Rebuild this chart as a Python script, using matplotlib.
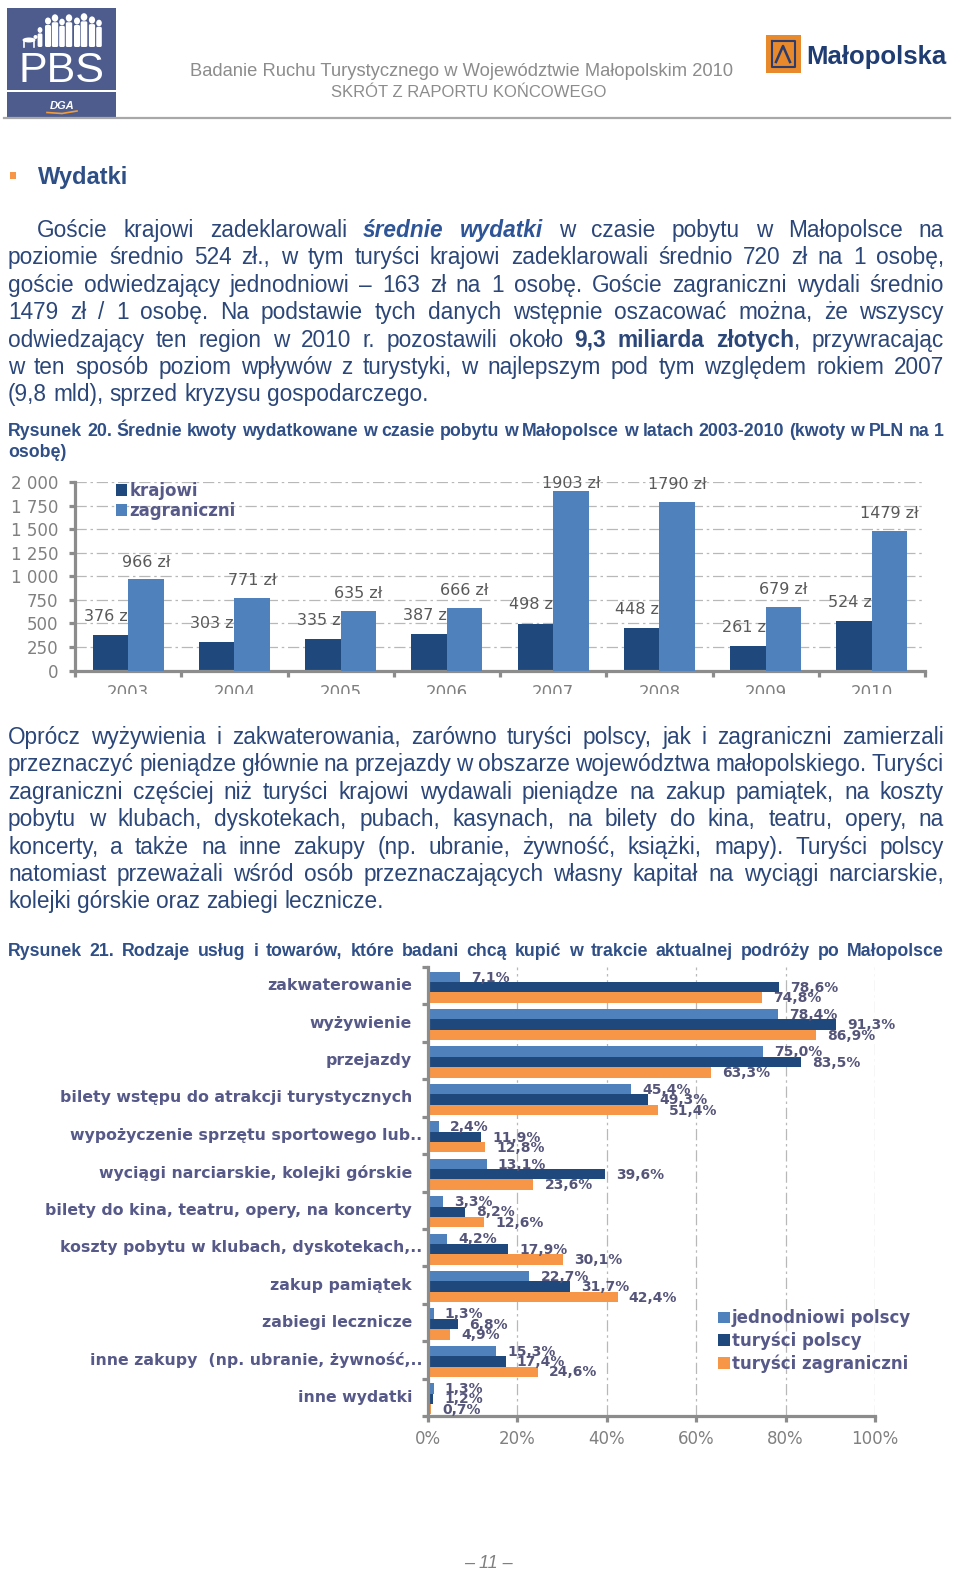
import re
import numpy as np
import matplotlib
matplotlib.use('Agg')
import matplotlib.pyplot as plt
from matplotlib import font_manager as fm
from matplotlib import transforms as mtrans
from matplotlib.patches import Rectangle, Patch, Ellipse, FancyBboxPatch

W, H = 960, 1574

# ---------------- data ----------------
years = ['2003', '2004', '2005', '2006', '2007', '2008', '2009', '2010']
krajowi = [376, 303, 335, 387, 498, 448, 261, 524]
zagraniczni = [966, 771, 635, 666, 1903, 1790, 679, 1479]
y1_ticks = [0, 250, 500, 750, 1000, 1250, 1500, 1750, 2000]
y1_ticklabels = ['0', '250', '500', '750', '1 000', '1 250', '1 500', '1 750', '2 000']
legend1 = ['krajowi', 'zagraniczni']

services = ['zakwaterowanie', 'wyżywienie', 'przejazdy',
            'bilety wstępu do atrakcji turystycznych',
            'wypożyczenie sprzętu sportowego lub..',
            'wyciągi narciarskie, kolejki górskie',
            'bilety do kina, teatru, opery, na koncerty',
            'koszty pobytu w klubach, dyskotekach,..',
            'zakup pamiątek', 'zabiegi lecznicze',
            'inne zakupy  (np. ubranie, żywność,..',
            'inne wydatki']
jednodniowi = [7.1, 78.4, 75.0, 45.4, 2.4, 13.1, 3.3, 4.2, 22.7, 1.3, 15.3, 1.3]
turysci_polscy = [78.6, 91.3, 83.5, 49.3, 11.9, 39.6, 8.2, 17.9, 31.7, 6.8, 17.4, 1.2]
turysci_zagraniczni = [74.8, 86.9, 63.3, 51.4, 12.8, 23.6, 12.6, 30.1, 42.4, 4.9, 24.6, 0.7]
legend2 = ['jednodniowi polscy', 'turyści polscy', 'turyści zagraniczni']
x2_ticks = [0, 20, 40, 60, 80, 100]
x2_ticklabels = ['0%', '20%', '40%', '60%', '80%', '100%']

header1 = 'Badanie Ruchu Turystycznego w Województwie Małopolskim 2010'
header2 = 'SKRÓT Z RAPORTU KOŃCOWEGO'
para1 = [
    'Goście krajowi zadeklarowali [bi]średnie wydatki[/bi] w czasie pobytu w Małopolsce na',
    'poziomie średnio 524 zł., w tym turyści krajowi zadeklarowali średnio 720 zł na 1 osobę,',
    'goście odwiedzający jednodniowi –  163 zł na 1 osobę. Goście zagraniczni wydali średnio',
    '1479 zł / 1 osobę. Na podstawie tych danych wstępnie oszacować można, że wszyscy',
    'odwiedzający ten region w 2010 r. pozostawili około [b]9,3 miliarda złotych[/b], przywracając',
    'w ten sposób poziom wpływów z turystyki, w najlepszym pod tym względem rokiem 2007',
    '(9,8 mld), sprzed kryzysu gospodarczego.',
]
para2 = [
    'Oprócz wyżywienia i zakwaterowania, zarówno turyści polscy, jak i zagraniczni zamierzali',
    'przeznaczyć pieniądze głównie na przejazdy w obszarze województwa małopolskiego. Turyści',
    'zagraniczni częściej niż turyści krajowi wydawali pieniądze na zakup pamiątek, na koszty',
    'pobytu w klubach, dyskotekach, pubach, kasynach, na bilety do kina, teatru, opery, na',
    'koncerty, a także na inne zakupy (np. ubranie, żywność, książki, mapy). Turyści polscy',
    'natomiast przeważali wśród osób przeznaczających własny kapitał na wyciągi narciarskie,',
    'kolejki górskie oraz zabiegi lecznicze.',
]
caption20 = ['Rysunek 20. Średnie kwoty wydatkowane w czasie pobytu w Małopolsce w latach 2003-2010 (kwoty w PLN na 1',
             'osobę)']
caption21 = 'Rysunek 21. Rodzaje usług i towarów, które badani chcą kupić w trakcie aktualnej podróży po Małopolsce'


def has_font(name):
    try:
        fm.findfont(fm.FontProperties(family=name), fallback_to_default=False)
        return True
    except Exception:
        return False


SANS = 'Liberation Sans' if has_font('Liberation Sans') else 'DejaVu Sans'
NARROW = 'Liberation Sans Narrow' if has_font('Liberation Sans Narrow') else SANS
CH = 'DejaVu Sans'
plt.rcParams['font.family'] = ['DejaVu Sans']

C_DARK = '#1f497d'
C_LIGHT = '#4f81bd'
C_ORANGE = '#f79646'
C_TEXT = '#2b4678'
C_CAP = '#2f4f86'
C_CHTXT = '#575a89'
C_GRID = '#b8b8b8'
C_AXIS = '#8c8c8c'

fig = plt.figure(figsize=(W / 100, H / 100), dpi=100)
fig.patch.set_facecolor('white')
renderer = fig.canvas.get_renderer()

pg = fig.add_axes([0, 0, 1, 1], zorder=-1)
pg.set_xlim(0, W)
pg.set_ylim(H, 0)
pg.axis('off')


def parse(line):
    segs, style, pos = [], 'n', 0
    for m in re.finditer(r'\[(/?)(b|bi)\]', line):
        if m.start() > pos:
            segs.append((line[pos:m.start()], style))
        style = 'n' if m.group(1) else m.group(2)
        pos = m.end()
    if pos < len(line):
        segs.append((line[pos:], style))
    words = [[]]
    for txt, st in segs:
        parts = txt.split(' ')
        for i, p in enumerate(parts):
            if i > 0:
                words.append([])
            if p:
                words[-1].append((p, st))
    return [w for w in words if w]


def draw_line(line, y, x0, x1, justify, size, color, family, base_weight='normal'):
    words = parse(line)
    arts, widths = [], []
    for w in words:
        wa, ww = [], 0.0
        for txt, st in w:
            weight = 'bold' if st in ('b', 'bi') else base_weight
            style = 'italic' if st == 'bi' else 'normal'
            col = '#2d5597' if st == 'bi' else color
            t = pg.text(0, y, txt, fontsize=size, color=col, family=family,
                        weight=weight, style=style, va='baseline', ha='left')
            bw = t.get_window_extent(renderer).width
            wa.append((t, bw))
            ww += bw
        arts.append(wa)
        widths.append(ww)
    t1 = pg.text(0, 0, 'x x', fontsize=size, family=family, weight=base_weight)
    t2 = pg.text(0, 0, 'xx', fontsize=size, family=family, weight=base_weight)
    sp = t1.get_window_extent(renderer).width - t2.get_window_extent(renderer).width
    t1.remove()
    t2.remove()
    n = len(words)
    gap = (x1 - x0 - sum(widths)) / (n - 1) if (justify and n > 1) else sp
    x = x0
    for wa in arts:
        for t, bw in wa:
            t.set_x(x)
            x += bw
        x += gap


# ---------------- header ----------------
logo_c = '#4d5c8c'
pg.add_patch(Rectangle((7, 8), 109, 81.5, color=logo_c, lw=0))
pg.add_patch(Rectangle((7, 92), 109, 25.5, color=logo_c, lw=0))
figs = [(48, 21, 3.0), (55, 18, 3.2), (62, 22, 2.8), (69, 18, 3.2),
        (77, 21, 3.0), (84, 17, 3.3), (92, 20, 3.1), (99, 23, 2.8), (40, 30, 2.4)]
for fx, fy, r in figs:
    pg.add_patch(Ellipse((fx, fy), 2 * r, 2 * r + 1, color='white', lw=0))
    pg.add_patch(FancyBboxPatch((fx - r, fy + r + 1), 2 * r, 47 - (fy + r + 1),
                                boxstyle='round,pad=0,rounding_size=1.5', color='white', lw=0))
pg.add_patch(Ellipse((29, 40), 13, 5, color='white', lw=0))
pg.plot([24, 24], [40, 47], color='white', lw=1.2)
pg.plot([34, 34], [40, 47], color='white', lw=1.2)
pg.add_patch(Ellipse((35.5, 37), 4, 4, color='white', lw=0))
pg.text(61.5, 82, 'PBS', fontsize=31, color='white', family=SANS, ha='center', va='baseline')
pg.text(62, 109, 'DGA', fontsize=8, color='white', family=SANS, weight='bold', style='italic',
        ha='center', va='baseline')
pg.plot([47, 62, 77], [112.5, 113.5, 111], color='#f29b38', lw=1.2)

pg.text(461, 76, header1, fontsize=13.2, color='#8c8c8c', family=NARROW, ha='center', va='baseline')
pg.text(469, 97, header2, fontsize=12, color='#8c8c8c', family=NARROW, ha='center', va='baseline')

pg.add_patch(Rectangle((766, 35), 35, 38, color='#e8892b', lw=0))
pg.plot([772, 772, 795, 795, 772], [41, 67, 67, 41, 41], color='#2a3d6e', lw=1.5)
pg.plot([776, 783, 790], [62, 46, 62], color='#2a3d6e', lw=1.8)
pg.text(806, 64, 'Małopolska', fontsize=18.5, color='#1f3c73', family=SANS, weight='bold',
        ha='left', va='baseline')
pg.plot([4, 950], [117.5, 117.5], color='#a8a8a8', lw=1.6)

# ---------------- text ----------------
pg.add_patch(Rectangle((10, 172), 6, 7, color=C_ORANGE, lw=0))
pg.text(38, 184, 'Wydatki', fontsize=17, color='#2e4f85', family=SANS, weight='bold', va='baseline')

LS = 27.4
BODY = 16.3
for i, line in enumerate(para1):
    draw_line(line, 237 + i * LS, 37 if i == 0 else 8, 944, i < len(para1) - 1, BODY, C_TEXT, SANS)
draw_line(caption20[0], 436, 8, 944, True, 12.8, C_CAP, SANS, 'bold')
draw_line(caption20[1], 457, 8, 944, False, 12.8, C_CAP, SANS, 'bold')
for i, line in enumerate(para2):
    draw_line(line, 744 + i * LS, 8, 944, i < len(para2) - 1, BODY, C_TEXT, SANS)
draw_line(caption21, 956, 8, 944, True, 12.8, C_CAP, SANS, 'bold')
pg.text(488, 1568, '– 11 –', fontsize=13, color='#808080', family=SANS, style='italic',
        ha='center', va='baseline')


def style_axes(ax):
    for s in ('top', 'right'):
        ax.spines[s].set_visible(False)
    for s in ('left', 'bottom'):
        ax.spines[s].set_color(C_AXIS)
        ax.spines[s].set_linewidth(2.3)
    ax.set_axisbelow(True)
    ax.set_facecolor('none')


# ---------------- chart 1 ----------------
ax1 = fig.add_axes([75 / W, 1 - 670.5 / H, 850 / W, (670.5 - 482) / H])
style_axes(ax1)
xp = np.arange(len(years))
bw = 0.334
b1 = ax1.bar(xp - bw / 2, krajowi, bw, color=C_DARK, zorder=2, label=legend1[0])
b2 = ax1.bar(xp + bw / 2, zagraniczni, bw, color=C_LIGHT, zorder=4, label=legend1[1])
Y_LAB_MAX = 1979  # Excel keeps data labels inside the plot area
for rect, v in zip(b1, krajowi):
    ax1.text(rect.get_x() + rect.get_width() / 2 - 0.02, min(v + 200, Y_LAB_MAX), f'{v} zł',
             ha='center', va='center', fontsize=11.5, color='#595959', family=CH, zorder=3)
for rect, v in zip(b2, zagraniczni):
    ax1.text(rect.get_x() + rect.get_width() / 2, min(v + 185, Y_LAB_MAX), f'{v} zł',
             ha='center', va='center', fontsize=11.5, color='#595959', family=CH, zorder=5)
ax1.set_xlim(-0.5, len(years) - 0.5)
ax1.set_ylim(0, 2000)
ax1.set_yticks(y1_ticks)
ax1.set_yticklabels(y1_ticklabels, fontsize=12, color='#808080', family=CH)
ax1.set_xticks(xp)
ax1.set_xticklabels(years, fontsize=12, color='#808080', family=CH)
ax1.set_xticks(np.arange(len(years) + 1) - 0.5, minor=True)
ax1.tick_params(axis='x', which='major', length=0, pad=9.5)
ax1.tick_params(axis='x', which='minor', length=4, width=2.3, color=C_AXIS, direction='out')
ax1.tick_params(axis='y', length=4, width=2.3, color=C_AXIS, pad=8)
ax1.yaxis.grid(True, color=C_GRID, lw=0.9, linestyle=(0, (9, 3, 2, 3)))
leg1 = ax1.legend(loc='upper left', bbox_to_anchor=(0.038, 1.045), frameon=False, borderpad=0,
                  handlelength=0.7, handleheight=0.7, handletextpad=0.12, labelspacing=0.12,
                  prop=dict(family=CH, weight='bold', size=12))
for t in leg1.get_texts():
    t.set_color(C_CHTXT)

# ---------------- chart 2 ----------------
ax2 = fig.add_axes([428 / W, 1 - 1416 / H, (875 - 428) / W, (1416 - 967) / H])
style_axes(ax2)
yp = np.arange(len(services))
bh = 0.277
r_a = ax2.barh(yp - bh + 0.04, jednodniowi, bh, color=C_LIGHT, zorder=2, label=legend2[0])
r_b = ax2.barh(yp + 0.04, turysci_polscy, bh, color=C_DARK, zorder=2, label=legend2[1])
r_c = ax2.barh(yp + bh + 0.04, turysci_zagraniczni, bh, color=C_ORANGE, zorder=2, label=legend2[2])
for rects, vals in ((r_a, jednodniowi), (r_b, turysci_polscy), (r_c, turysci_zagraniczni)):
    for rect, v in zip(rects, vals):
        ax2.annotate(f'{v:.1f}%'.replace('.', ','), (v, rect.get_y() + rect.get_height() / 2),
                     xytext=(8, -0.5), textcoords='offset points', ha='left', va='center',
                     fontsize=10, weight='bold', color='#55557a', family=CH, zorder=6,
                     annotation_clip=False)
ax2.set_ylim(len(services) - 0.5, -0.5)
ax2.set_xlim(0, 100)
ax2.set_xticks(x2_ticks)
ax2.set_xticklabels(x2_ticklabels, fontsize=12, color='#808080', family=CH)
ax2.tick_params(axis='x', length=4, width=2.3, color=C_AXIS, pad=6)
ax2.set_yticks(np.arange(len(services) + 1) - 0.5)
ax2.set_yticklabels([])
ax2.tick_params(axis='y', length=4, width=2.3, color=C_AXIS)
ax2.xaxis.grid(True, color=C_GRID, lw=0.9, linestyle=(0, (9, 3, 2, 3)))
for i, lab in enumerate(services):
    off = -6 if lab.endswith('..') else -16
    tr = mtrans.offset_copy(ax2.get_yaxis_transform(), fig=fig, x=off, y=0, units='dots')
    ax2.text(0, i, lab, transform=tr, ha='right', va='center', fontsize=11.3, weight='bold',
             color=C_CHTXT, family=CH)
leg2 = ax2.legend(loc='upper left',
                  bbox_to_anchor=((710 - 428) / (875 - 428), (1416 - 1301) / (1416 - 967)),
                  frameon=False, borderpad=0, handlelength=0.7, handleheight=0.7, handletextpad=0.12,
                  labelspacing=0.25, prop=dict(family=CH, weight='bold', size=12))
for t in leg2.get_texts():
    t.set_color(C_CHTXT)

# page overlay: year labels of chart 1 are cropped in the original
ov = fig.add_axes([0, 0, 1, 1], zorder=10)
ov.set_xlim(0, W)
ov.set_ylim(H, 0)
ov.axis('off')
ov.add_patch(Rectangle((60, 694), 880, 16, color='white', lw=0))

fig.savefig('out.png', dpi=100, facecolor='white')
